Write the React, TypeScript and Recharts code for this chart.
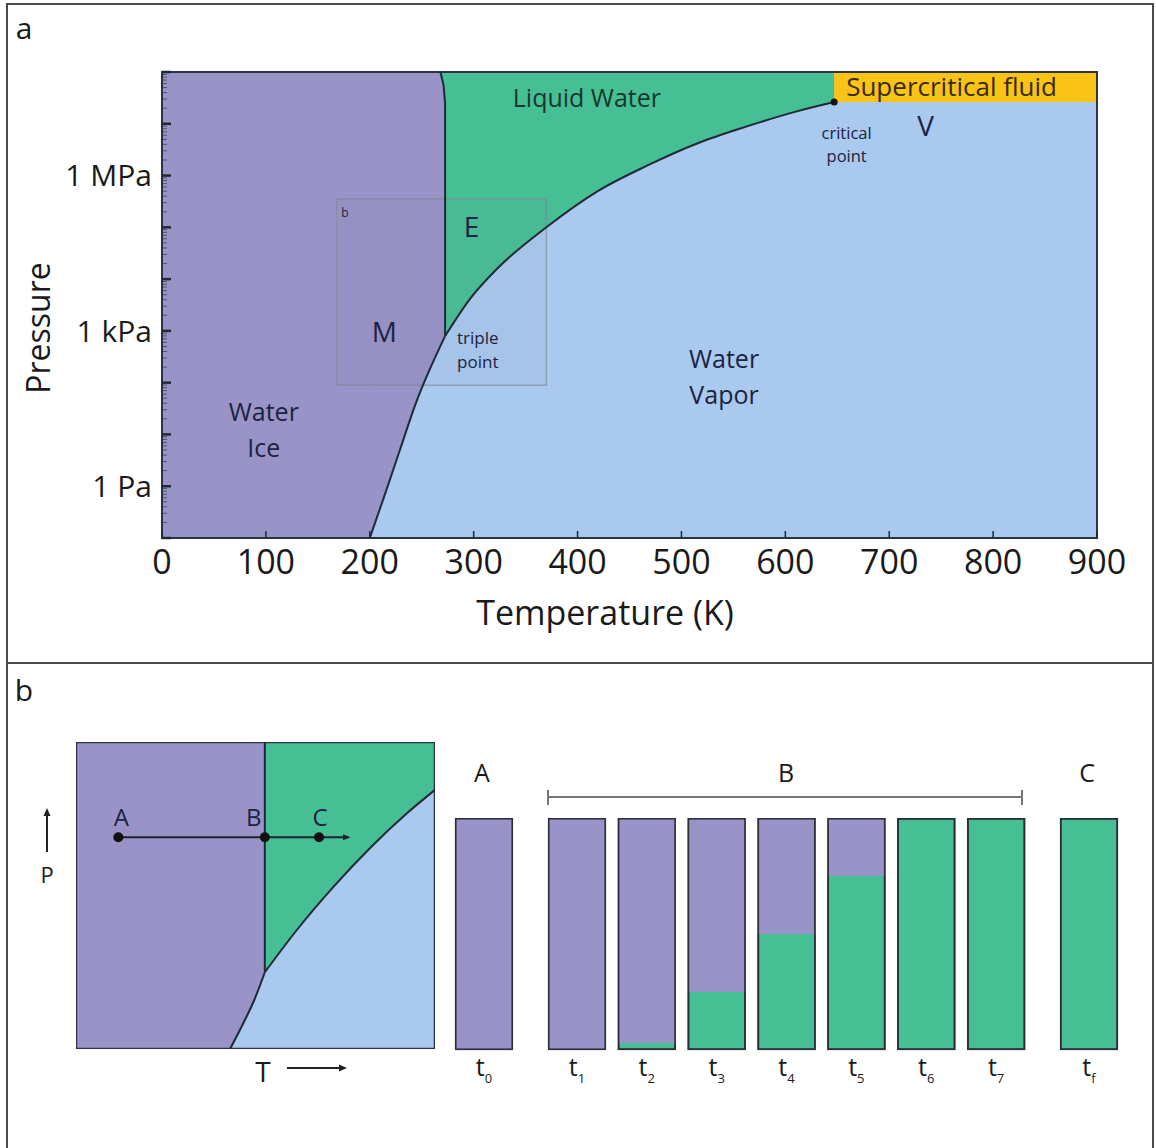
import React from 'react'
import {
  ComposedChart,
  Area,
  Line,
  XAxis,
  YAxis,
  CartesianGrid,
  ReferenceArea,
  ReferenceDot,
  BarChart,
  Bar,
} from 'recharts'

const FONT = '"Open Sans", "Noto Sans", sans-serif'
const ICE = '#9a93c7'
const LIQUID = '#47bf95'
const VAPOR = '#a9c9ee'
const SUPER = '#f9c416'
const INK = '#1b2340'
const EDGE = '#1e2a36'

// ---- panel a: water phase diagram, T in K, pressure as log10(P / Pa)
const P_MIN = -1
const P_MAX = 8
const sublimationT = [200, 213, 229, 245, 258, 272.5]
const sublimationLogP = [-1, -0.25, 0.7, 1.64, 2.27, 2.9]
const vaporizationT = [272.5, 296.5, 322.5, 370.6, 418.7, 466.8, 515, 563, 611, 647]
const vaporizationLogP = [2.9, 3.62, 4.2, 5.01, 5.69, 6.19, 6.62, 6.95, 7.24, 7.42]
const meltingT = [272.5, 272.5, 271, 268]
const meltingLogP = [2.9, 7.4, 7.75, 8]
const criticalT = 647
const criticalLogP = 7.42
const supercriticalT = [647, 900]
const zoomBoxT = [168, 370]
const zoomBoxLogP = [1.95, 5.55]

const tempTicks = [0, 100, 200, 300, 400, 500, 600, 700, 800, 900]
const pressureTickLogs = [0, 3, 6]
const pressureTickLabels = ['1 Pa', '1 kPa', '1 MPa']

const regionLabels = ['Liquid Water', 'Supercritical fluid', 'critical\npoint', 'V', 'Water\nVapor', 'Water\nIce', 'E', 'M', 'triple\npoint', 'b']
const regionLabelT = [409, 760, 659, 735, 541, 98, 298, 214, 304, 176]
const regionLabelLogP = [7.49, 7.72, 6.6, 6.95, 2.11, 1.08, 5.01, 2.98, 2.63, 5.28]
const labelSize: Record<string, number> = {
  'Liquid Water': 25, 'Supercritical fluid': 26, 'critical\npoint': 16.5, V: 28,
  'Water\nVapor': 25, 'Water\nIce': 25, E: 28, M: 28, 'triple\npoint': 17, b: 12,
}
const labelColor: Record<string, string> = { 'Liquid Water': '#17372c', 'Supercritical fluid': '#3a2a08' }

// ---- panel b: schematic diagram (arbitrary 0..100 units)
const schemSubX = [42.9, 46.6, 49.6, 52.6]
const schemSubY = [0, 8.4, 15.8, 25]
const schemVapX = [52.6, 61.4, 71.7, 82.2, 92.5, 100]
const schemVapY = [25, 38.6, 52.8, 65.8, 77.1, 84.4]
const schemMeltX = [52.6, 52.6]
const schemMeltY = [25, 100]
const pathX = [11.8, 75.8]
const pathY = 69
const pathPoints = ['A', 'B', 'C']
const pathPointX = [11.8, 52.6, 67.7]
const pathLabelDx = [3, -11, 1]

// ---- panel b: phase fractions in the sample at each time step
const stageSubscripts = ['0', '1', '2', '3', '4', '5', '6', '7', 'f']
const stageGroup = ['A', 'B', 'B', 'B', 'B', 'B', 'B', 'B', 'C']
const liquidFraction = [0, 0, 0.03, 0.25, 0.5, 0.75, 1, 1, 1]
const iceFraction = [1, 1, 0.97, 0.75, 0.5, 0.25, 0, 0, 0]

const pressureTicks = [-1, 0, 1, 2, 3, 4, 5, 6, 7]
  .flatMap((d) => [1, 2, 3, 4, 5, 6, 7, 8, 9].map((k) => d + Math.log10(k)))
  .concat([P_MAX])

const iceBlock = [
  { T: 0, range: [P_MIN, P_MAX] },
  { T: sublimationT[0] + 0.5, range: [P_MIN, P_MAX] },
]
const iceRange = sublimationT.map((T, i) => ({ T, range: [sublimationLogP[i], P_MAX] }))
const liquidRange = vaporizationT.map((T, i) => ({ T, range: [vaporizationLogP[i], P_MAX] }))
const meltCorner = meltingT
  .map((T, i) => ({ T, range: [meltingLogP[i], P_MAX] }))
  .filter((d, i) => i > 0)
  .reverse()
const superRange = supercriticalT.map((T) => ({ T, range: [criticalLogP, P_MAX] }))
const sublimationLine = sublimationT.map((T, i) => ({ T, logP: sublimationLogP[i] }))
const vaporLine = vaporizationT.map((T, i) => ({ T, logP: vaporizationLogP[i] }))
const meltLine = meltingT.map((T, i) => ({ T, logP: meltingLogP[i] }))

const TempTick = (p: any) => (
  <g>
    <line x1={p.x} x2={p.x} y1={p.y} y2={p.y - 7} stroke={EDGE} strokeWidth={1.5} />
    <text x={p.x} y={p.y + 36} textAnchor="middle" fontSize={34} fontFamily={FONT} fill="#1a1a1a">
      {p.payload.value}
    </text>
  </g>
)

const PressureTick = (p: any) => {
  const v = p.payload.value
  const major = Math.abs(v - Math.round(v)) < 1e-6
  const idx = major ? pressureTickLogs.indexOf(Math.round(v)) : -1
  return (
    <g>
      <line x1={p.x} x2={p.x + (major ? 9 : 5)} y1={p.y} y2={p.y} stroke={EDGE} strokeWidth={major ? 2.5 : 1} strokeOpacity={major ? 1 : 0.6} />
      {idx >= 0 && (
        <text x={p.x - 10} y={p.y} dy="0.36em" textAnchor="end" fontSize={30} fontFamily={FONT} fill="#1a1a1a">
          {pressureTickLabels[idx]}
        </text>
      )}
    </g>
  )
}

const makeLabel = (text: string) => (props: any) => {
  const vb = props.viewBox
  const size = labelSize[text] ?? 24
  const cx = vb.x + vb.width / 2
  const cy = vb.y + vb.height / 2
  const lines = text.split('\n')
  const lh = size * 1.44
  const y0 = cy - ((lines.length - 1) * lh) / 2
  return (
    <text textAnchor="middle" fontSize={size} fontFamily={FONT} fill={labelColor[text] ?? INK}>
      {lines.map((l, i) => (
        <tspan key={i} x={cx} y={y0 + i * lh} dy="0.36em">{l}</tspan>
      ))}
    </text>
  )
}

function PhaseDiagram() {
  return (
    <ComposedChart width={1156} height={663} margin={{ top: 72, right: 59, bottom: 0, left: 0 }}>
      <CartesianGrid fill={VAPOR} horizontal={false} vertical={false} />
      <XAxis type="number" dataKey="T" domain={[0, 900]} ticks={tempTicks} interval={0} height={125}
        tick={<TempTick />} tickLine={false} tickSize={0} tickMargin={0} axisLine={false} allowDataOverflow />
      <YAxis type="number" domain={[P_MIN, P_MAX]} ticks={pressureTicks} interval={0} width={162}
        tick={<PressureTick />} tickLine={false} tickSize={0} tickMargin={0} axisLine={false} allowDataOverflow />
      <Area data={iceBlock} dataKey="range" type="linear" fill={ICE} fillOpacity={1} stroke="none" isAnimationActive={false} />
      <Area data={iceRange} dataKey="range" type="monotone" fill={ICE} fillOpacity={1} stroke="none" isAnimationActive={false} />
      <Area data={liquidRange} dataKey="range" type="monotone" fill={LIQUID} fillOpacity={1} stroke="none" isAnimationActive={false} />
      <Area data={meltCorner} dataKey="range" type="linear" fill={LIQUID} fillOpacity={1} stroke="none" isAnimationActive={false} />
      <Area data={superRange} dataKey="range" type="linear" fill={SUPER} fillOpacity={1} stroke="none" isAnimationActive={false} />
      <Line data={sublimationLine} dataKey="logP" type="monotone" stroke={EDGE} strokeWidth={2} dot={false} isAnimationActive={false} />
      <Line data={vaporLine} dataKey="logP" type="monotone" stroke={EDGE} strokeWidth={2} dot={false} isAnimationActive={false} />
      <Line data={meltLine} dataKey="logP" type="linear" stroke={EDGE} strokeWidth={2} dot={false} isAnimationActive={false} />
      <ReferenceArea x1={zoomBoxT[0]} x2={zoomBoxT[1]} y1={zoomBoxLogP[0]} y2={zoomBoxLogP[1]}
        fill="#6f7a8c" fillOpacity={0.06} stroke="#7d8799" strokeOpacity={0.6} strokeWidth={1.5} />
      <ReferenceDot x={criticalT} y={criticalLogP} r={3.5} fill="#111" stroke="none" />
      {regionLabels.map((t, i) => (
        <ReferenceDot key={t} x={regionLabelT[i]} y={regionLabelLogP[i]} r={0} fill="none" stroke="none" label={makeLabel(t)} />
      ))}
      <ReferenceArea x1={0} x2={900} y1={P_MIN} y2={P_MAX} fill="none" stroke="#2b3440" strokeWidth={2} />
    </ComposedChart>
  )
}

const schemIceBlock = [
  { x: 0, range: [0, 100] },
  { x: schemSubX[0] + 0.2, range: [0, 100] },
]
const schemIce = schemSubX.map((x, i) => ({ x, range: [schemSubY[i], 100] }))
const schemLiquid = schemVapX.map((x, i) => ({ x, range: [schemVapY[i], 100] }))
const schemSubLine = schemSubX.map((x, i) => ({ x, y: schemSubY[i] }))
const schemVapLine = schemVapX.map((x, i) => ({ x, y: schemVapY[i] }))
const schemMeltLine = schemMeltX.map((x, i) => ({ x, y: schemMeltY[i] }))
const schemPath = pathX.map((x) => ({ x, y: pathY }))

const pointLabel = (text: string, dx: number) => (props: any) => {
  const vb = props.viewBox
  return (
    <text x={vb.x + vb.width / 2 + dx} y={vb.y - 6} textAnchor="middle" fontSize={24} fontFamily={FONT} fill={INK}>
      {text}
    </text>
  )
}

function Schematic() {
  return (
    <ComposedChart width={359} height={307} margin={{ top: 0, right: 0, bottom: 0, left: 0 }}>
      <defs>
        <marker id="arrowHead" viewBox="0 0 10 10" refX="7" refY="5" markerWidth="4" markerHeight="4" orient="auto">
          <path d="M0,1 L10,5 L0,9 z" fill="#1b2230" />
        </marker>
      </defs>
      <CartesianGrid fill={VAPOR} horizontal={false} vertical={false} />
      <XAxis type="number" dataKey="x" domain={[0, 100]} hide allowDataOverflow />
      <YAxis type="number" domain={[0, 100]} hide allowDataOverflow />
      <Area data={schemIceBlock} dataKey="range" type="linear" fill={ICE} fillOpacity={1} stroke="none" isAnimationActive={false} />
      <Area data={schemIce} dataKey="range" type="monotone" fill={ICE} fillOpacity={1} stroke="none" isAnimationActive={false} />
      <Area data={schemLiquid} dataKey="range" type="monotone" fill={LIQUID} fillOpacity={1} stroke="none" isAnimationActive={false} />
      <Line data={schemSubLine} dataKey="y" type="monotone" stroke={EDGE} strokeWidth={2} dot={false} isAnimationActive={false} />
      <Line data={schemVapLine} dataKey="y" type="monotone" stroke={EDGE} strokeWidth={2} dot={false} isAnimationActive={false} />
      <Line data={schemMeltLine} dataKey="y" type="linear" stroke={EDGE} strokeWidth={2} dot={false} isAnimationActive={false} />
      <Line data={schemPath} dataKey="y" type="linear" stroke="#1b2230" strokeWidth={2} dot={false} markerEnd="url(#arrowHead)" isAnimationActive={false} />
      {pathPoints.map((p, i) => (
        <ReferenceDot key={p} x={pathPointX[i]} y={pathY} r={5} fill="#111" stroke="none" label={pointLabel(p, pathLabelDx[i])} />
      ))}
      <ReferenceArea x1={0} x2={100} y1={0} y2={100} fill="none" stroke="#2b3440" strokeWidth={2.5} />
    </ComposedChart>
  )
}

const stageRows = stageSubscripts.map((sub, i) => ({
  sub,
  group: stageGroup[i],
  liquid: liquidFraction[i],
  ice: iceFraction[i],
}))

const barShape = (color: string) => (p: any) => {
  const bg = p.background
  return (
    <g>
      <rect x={p.x} y={p.y} width={p.width} height={Math.max(0, p.height)} fill={color} />
      {bg ? (
        <rect x={bg.x + 0.75} y={bg.y + 0.75} width={bg.width - 1.5} height={bg.height - 1.5}
          fill="none" stroke="#2a2f3a" strokeWidth={1.6} />
      ) : null}
    </g>
  )
}

const StageTick = (p: any) => (
  <text x={p.x} y={p.y + 26} textAnchor="middle" fontFamily={FONT} fontSize={25} fill="#1a1a1a">
    t<tspan fontSize={13} dy={7}>{p.payload.value}</tspan>
  </text>
)

function StageBars({ group, left, width }: { group: string; left: number; width: number }) {
  const rows = stageRows.filter((r) => r.group === group)
  return (
    <div style={{ position: 'absolute', left, top: 818 }}>
      <BarChart width={width} height={282} data={rows} margin={{ top: 0, right: 0, bottom: 0, left: 0 }}>
        <XAxis dataKey="sub" height={50} interval={0} tick={<StageTick />} tickLine={false} axisLine={false} tickSize={0} tickMargin={0} />
        <YAxis hide domain={[0, 1]} />
        <Bar dataKey="liquid" stackId="s" barSize={58} shape={barShape(LIQUID)} isAnimationActive={false} />
        <Bar dataKey="ice" stackId="s" barSize={58} shape={barShape(ICE)} isAnimationActive={false} />
      </BarChart>
    </div>
  )
}

const Txt = ({ x, y, size, rotate, children }: any) => (
  <div
    style={{
      position: 'absolute', left: x, top: y, fontSize: size, lineHeight: 1, whiteSpace: 'nowrap', color: '#1a1a1a',
      transform: `translate(-50%, -50%)${rotate ? ` rotate(${rotate}deg)` : ''}`,
    }}
  >
    {children}
  </div>
)

export default function App() {
  return (
    <div style={{ position: 'absolute', left: 0, top: 0, width: 1156, height: 1148, overflow: 'hidden', background: '#fff', fontFamily: FONT }}>
      <div style={{ position: 'absolute', left: 6, top: 3, width: 1148, height: 661, boxSizing: 'border-box', border: '2px solid #4a4a4a' }} />
      <div style={{ position: 'absolute', left: 6, top: 662, width: 1148, height: 600, boxSizing: 'border-box', border: '2px solid #4a4a4a' }} />

      <div style={{ position: 'absolute', left: 0, top: 0 }}>
        <PhaseDiagram />
      </div>
      <Txt x={24} y={28} size={30}>a</Txt>
      <Txt x={605} y={612} size={34}>Temperature (K)</Txt>
      <Txt x={38} y={328} size={32} rotate={-90}>Pressure</Txt>

      <Txt x={24} y={690} size={30}>b</Txt>
      <div style={{ position: 'absolute', left: 76, top: 742 }}>
        <Schematic />
      </div>
      <svg style={{ position: 'absolute', left: 40, top: 806 }} width={14} height={48}>
        <line x1={7} x2={7} y1={46} y2={8} stroke="#222" strokeWidth={2} />
        <path d="M3.5,10 L7,2 L10.5,10 z" fill="#222" />
      </svg>
      <Txt x={47} y={874} size={22}>P</Txt>
      <Txt x={263} y={1071} size={28}>T</Txt>
      <svg style={{ position: 'absolute', left: 285, top: 1062 }} width={64} height={12}>
        <line x1={2} x2={56} y1={6} y2={6} stroke="#222" strokeWidth={2} />
        <path d="M54,2.5 L62,6 L54,9.5 z" fill="#222" />
      </svg>

      <StageBars group="A" left={449} width={70} />
      <StageBars group="B" left={542} width={489} />
      <StageBars group="C" left={1054} width={70} />
      <Txt x={482} y={772} size={25}>A</Txt>
      <Txt x={786} y={772} size={25}>B</Txt>
      <Txt x={1087} y={772} size={25}>C</Txt>
      <svg style={{ position: 'absolute', left: 546, top: 788 }} width={480} height={20}>
        <line x1={2} x2={476} y1={9} y2={9} stroke="#777" strokeWidth={2} />
        <line x1={2} x2={2} y1={2} y2={17} stroke="#777" strokeWidth={2} />
        <line x1={476} x2={476} y1={2} y2={17} stroke="#777" strokeWidth={2} />
      </svg>
    </div>
  )
}
